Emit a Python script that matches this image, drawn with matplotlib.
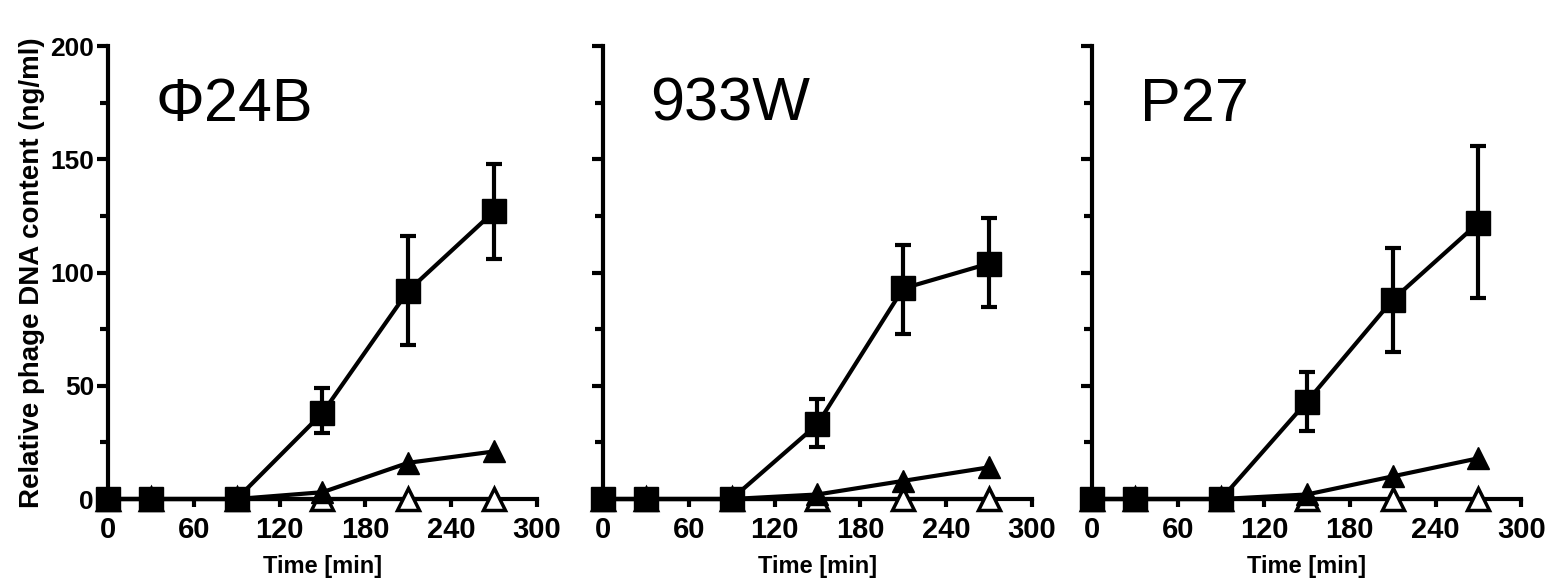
import numpy as np
import matplotlib
matplotlib.use("Agg")
from matplotlib import pyplot as plt
from matplotlib.ticker import MultipleLocator

plt.rcParams['font.family'] = ['Liberation Sans', 'DejaVu Sans']

times = [0, 30, 90, 150, 210, 270]
titles = ['Φ24B', '933W', 'P27']

# filled squares: mean, upper and lower end of error bar
sq_mean = [[0, 0, 0, 38, 92, 127],
           [0, 0, 0, 33, 93, 104],
           [0, 0, 0, 43, 88, 122]]
sq_hi = [[0, 0, 0, 49, 116, 148],
         [0, 0, 0, 44, 112, 124],
         [0, 0, 0, 56, 111, 156]]
sq_lo = [[0, 0, 0, 29, 68, 106],
         [0, 0, 0, 23, 73, 85],
         [0, 0, 0, 30, 65, 89]]
# filled triangles
tri_fill = [[0, 0, 0, 3, 16, 21],
            [0, 0, 0, 2, 8, 14],
            [0, 0, 0, 2, 10, 18]]
# open triangles
tri_open = [[0, 0, 0, 0, 0, 0],
            [0, 0, 0, 0, 0, 0],
            [0, 0, 0, 0, 0, 0]]

fig = plt.figure(figsize=(15.54, 5.85), dpi=100)
lefts = [0.0695, 0.388, 0.703]
width = 0.276
bottom = 0.147
height = 0.774

for i in range(3):
    ax = fig.add_axes([lefts[i], bottom, width, height])
    m = np.array(sq_mean[i])
    yerr = [m - np.array(sq_lo[i]), np.array(sq_hi[i]) - m]
    ax.plot(times, tri_open[i], color='k', lw=3, marker='^', ms=16,
            mfc='white', mec='k', mew=2.5, clip_on=False, zorder=3)
    ax.plot(times, tri_fill[i], color='k', lw=3, marker='^', ms=16,
            mfc='k', mec='k', clip_on=False, zorder=4)
    ax.errorbar(times, m, yerr=yerr, color='k', lw=3, marker='s', ms=17,
                elinewidth=3, capsize=6, capthick=3, clip_on=False, zorder=5)

    ax.set_xlim(0, 300)
    ax.set_ylim(0, 200)
    ax.set_xticks([0, 60, 120, 180, 240, 300])
    ax.yaxis.set_major_locator(MultipleLocator(50))
    ax.yaxis.set_minor_locator(MultipleLocator(25))
    for s in ['top', 'right']:
        ax.spines[s].set_visible(False)
    for s in ['left', 'bottom']:
        ax.spines[s].set_linewidth(3)
    ax.tick_params(which='major', width=3, length=8, direction='out')
    ax.tick_params(which='minor', width=3, length=6, direction='out')
    ax.tick_params(axis='x', which='major', length=6)
    ax.tick_params(axis='x', labelsize=21, pad=6)
    ax.tick_params(axis='y', labelsize=19, pad=2)
    for lab in ax.get_xticklabels() + ax.get_yticklabels():
        lab.set_fontweight('bold')
    if i > 0:
        ax.set_yticklabels([])
    else:
        ax.set_ylabel('Relative phage DNA content (ng/ml)', fontsize=20,
                      fontweight='bold', labelpad=4)
    ax.set_xlabel('Time [min]', fontsize=17, fontweight='bold', labelpad=8)
    ax.text(0.11, 0.87, titles[i], transform=ax.transAxes, fontsize=44,
            ha='left', va='center')

fig.savefig('out.png', dpi=100)
